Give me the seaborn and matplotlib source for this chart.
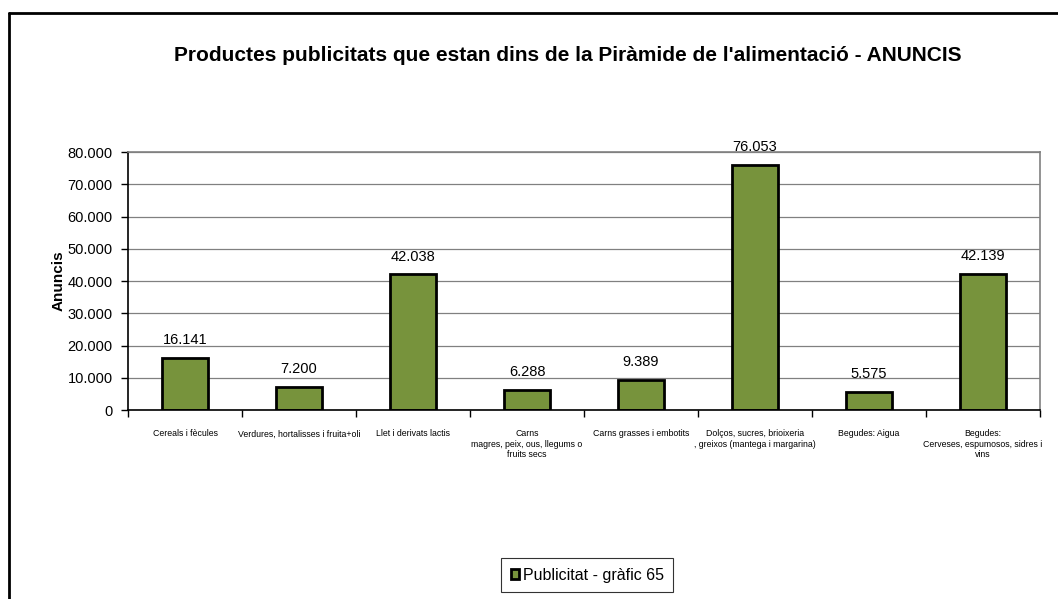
import pandas as pd
import numpy as np
import matplotlib
matplotlib.use("Agg")
import matplotlib.pyplot as plt
import seaborn as sns
from matplotlib.ticker import FuncFormatter, FixedLocator
from matplotlib.lines import Line2D

# dades del gràfic
categories = [
    "Cereals i fècules",
    "Verdures, hortalisses i fruita+oli",
    "Llet i derivats lactis",
    "Carns\nmagres, peix, ous, llegums o\nfruits secs",
    "Carns grasses i embotits",
    "Dolços, sucres, brioixeria\n, greixos (mantega i margarina)",
    "Begudes: Aigua",
    "Begudes:\nCerveses, espumosos, sidres i\nvins",
]
anuncis = [16141, 7200, 42038, 6288, 9389, 76053, 5575, 42139]
serie = "Publicitat - gràfic 65"
yticks = [0, 10000, 20000, 30000, 40000, 50000, 60000, 70000, 80000]

GREEN = "#77933C"

sns.set_theme(style="white", rc={"text.color": "black", "axes.labelcolor": "black",
                                 "xtick.color": "black", "ytick.color": "black"})
plt.rcParams['font.family'] = ['Liberation Sans', 'DejaVu Sans']

df = pd.DataFrame({"categoria": categories, "anuncis": anuncis, "serie": serie})

fig = plt.figure(figsize=(10.58, 5.99), dpi=100)
ax = fig.add_axes([0.121, 0.3155, 0.862, 0.4307])

ax.yaxis.grid(True, color="#808080", linewidth=0.9)
ax.set_axisbelow(True)

sns.barplot(data=df, x="categoria", y="anuncis", hue="serie",
            palette=[GREEN], width=0.4, edgecolor="black", linewidth=2,
            saturation=1, ax=ax, legend=True)

# etiquetes de valor
fmt = lambda v: f"{int(v):,}".replace(",", ".")
for i, v in enumerate(anuncis):
    ax.text(i, v + 3300, fmt(v), ha="center", va="bottom", fontsize=10.5, color="black")

ax.set_ylim(0, 80000)
ax.set_xlim(-0.5, len(categories) - 0.5)
ax.yaxis.set_major_locator(FixedLocator(yticks))
ax.yaxis.set_major_formatter(FuncFormatter(lambda v, p: fmt(v)))
ax.tick_params(axis="y", direction="out", length=5, width=1, colors="black",
               labelsize=10.5, left=True, pad=6)

ax.set_xticks(range(len(categories)))
ax.set_xticklabels(categories, fontsize=6.3, linespacing=1.15)
ax.tick_params(axis="x", which="major", length=0, pad=14)
ax.set_xticks(np.arange(-0.5, len(categories), 1.0), minor=True)
ax.tick_params(axis="x", which="minor", direction="out", length=5, width=1,
               color="black", bottom=True)
for lbl in ax.get_xticklabels():
    lbl.set_verticalalignment("top")

ax.set_xlabel("")
ax.set_ylabel("Anuncis", fontsize=11, fontweight="bold", color="black")
ax.yaxis.set_label_coords(-0.068, 0.5)

for side in ["top", "right"]:
    ax.spines[side].set_visible(True)
    ax.spines[side].set_color("#808080")
    ax.spines[side].set_linewidth(1.2)
for side in ["left", "bottom"]:
    ax.spines[side].set_color("black")
    ax.spines[side].set_linewidth(1.2)

# llegenda
handles = [plt.Rectangle((0, 0), 1, 1, facecolor=GREEN, edgecolor="black", linewidth=2)]
if ax.get_legend() is not None:
    ax.get_legend().remove()
leg = ax.legend(handles, [serie], loc="center", bbox_to_anchor=(0.555, 0.04),
                bbox_transform=fig.transFigure, fontsize=11.5, frameon=True,
                fancybox=False, edgecolor="black", handlelength=0.55,
                handleheight=0.55, handletextpad=0.2, borderpad=0.6,
                borderaxespad=0)
leg.get_frame().set_linewidth(0.8)
for t in leg.get_texts():
    t.set_color("black")

fig.text(0.537, 0.908, "Productes publicitats que estan dins de la Piràmide de l'alimentació - ANUNCIS",
         ha="center", va="center", fontsize=15, fontweight="bold", color="black")

# marc exterior (només es veuen la vora superior i l'esquerra)
x0, y0 = 9 / 1058, 1 - 13 / 599
fig.add_artist(Line2D([x0, 1.0], [y0, y0], transform=fig.transFigure, color="black", linewidth=2))
fig.add_artist(Line2D([x0, x0], [0.0, y0], transform=fig.transFigure, color="black", linewidth=2))

fig.savefig("out.png", dpi=100)
